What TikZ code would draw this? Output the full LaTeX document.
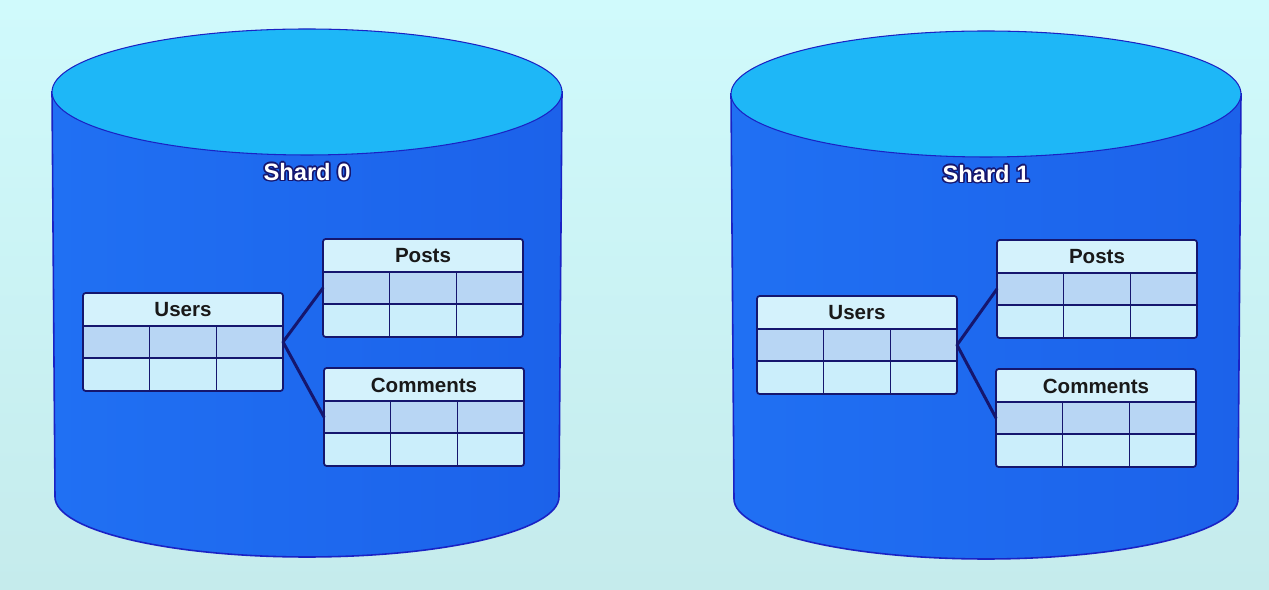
\documentclass[tikz,border=0pt]{standalone}
\usepackage{fontspec}
\setmainfont{Liberation Sans}
\definecolor{bgtop}{HTML}{D0FAFC}
\definecolor{bgbot}{HTML}{C5EBEC}
\definecolor{bodyblue}{HTML}{2070F3}
\definecolor{bodyblueb}{HTML}{1C62EA}
\definecolor{topblue}{HTML}{1EB7F7}
\definecolor{rimblue}{HTML}{1A22C4}
\definecolor{navy}{HTML}{15166E}
\definecolor{headfill}{HTML}{D4F2FC}
\definecolor{rowafill}{HTML}{B8D6F4}
\definecolor{rowbfill}{HTML}{CBEEFB}
\tikzset{
    tabtitle/.style = {font=\fontsize{11.7}{14}\selectfont\bfseries, text=black!90, inner sep=0pt},
    tabline/.style = {draw=navy, line width=0.6pt},
    link/.style = {draw=navy, line width=1.7pt, line cap=round},
    shardtext/.style = {font=\fontsize{13.5}{16}\selectfont\bfseries, inner sep=0pt},
    pics/dbtable/.style = {
        code = {
        \fill [headfill] (0,0) rectangle (200,33);
        \fill [rowafill] (0,33) rectangle (200,65);
        \fill [rowbfill] (0,65) rectangle (200,98);
        \draw [tabline] (0,33) -- (200,33);
        \draw [tabline] (0,65) -- (200,65);
        \draw [tabline] (66.7,33) -- (66.7,98);
        \draw [tabline] (133.3,33) -- (133.3,98);
        \draw [tabline, line width=1pt, rounded corners=1.5pt] (0,0) rectangle (200,98);
        \node[tabtitle] (-title) at (100,17) {#1};
        \coordinate (-in) at (0,49);
        \coordinate (-out) at (200,49);
        }
    },
    pics/shard/.style = {
        code = {
        \path [draw=rimblue, line width=0.9pt, left color=bodyblue, right color=bodyblueb]
            (-255,0) -- (-252,405) arc[start angle=180, end angle=0, x radius=252, y radius=60]
            -- (255,0) -- cycle;
        \filldraw [fill=topblue, draw=rimblue, line width=0.6pt] (0,0) ellipse[x radius=255, y radius=63];
        \foreach \a in {0,30,...,330}
            \node[shardtext, text=navy, shift={(\a:1.5)}] at (0,80) {#1};
        \node[shardtext, text=white] (-label) at (0,80) {#1};
        }
    }
}

\begin{document}
\begin{tikzpicture}[x=0.02cm, y=-0.02cm]
    \shade [top color=bgtop, bottom color=bgbot] (0,0) rectangle (1269,590);
    \useasboundingbox (0,0) rectangle (1269,590);

    \path pic (s0) at (307,92) {shard={Shard 0}};
    \path pic (u0) at (83,293) {dbtable={Users}};
    \path pic (p0) at (323,239) {dbtable={Posts}};
    \path pic (c0) at (324,368) {dbtable={Comments}};

    \draw [link] (u0-out)--(p0-in);
    \draw [link] (u0-out)--(c0-in);

    \path pic (s1) at (986,94) {shard={Shard 1}};
    \path pic (u1) at (757,296) {dbtable={Users}};
    \path pic (p1) at (997,240) {dbtable={Posts}};
    \path pic (c1) at (996,369) {dbtable={Comments}};

    \draw [link] (u1-out)--(p1-in);
    \draw [link] (u1-out)--(c1-in);

\end{tikzpicture}
\end{document}
